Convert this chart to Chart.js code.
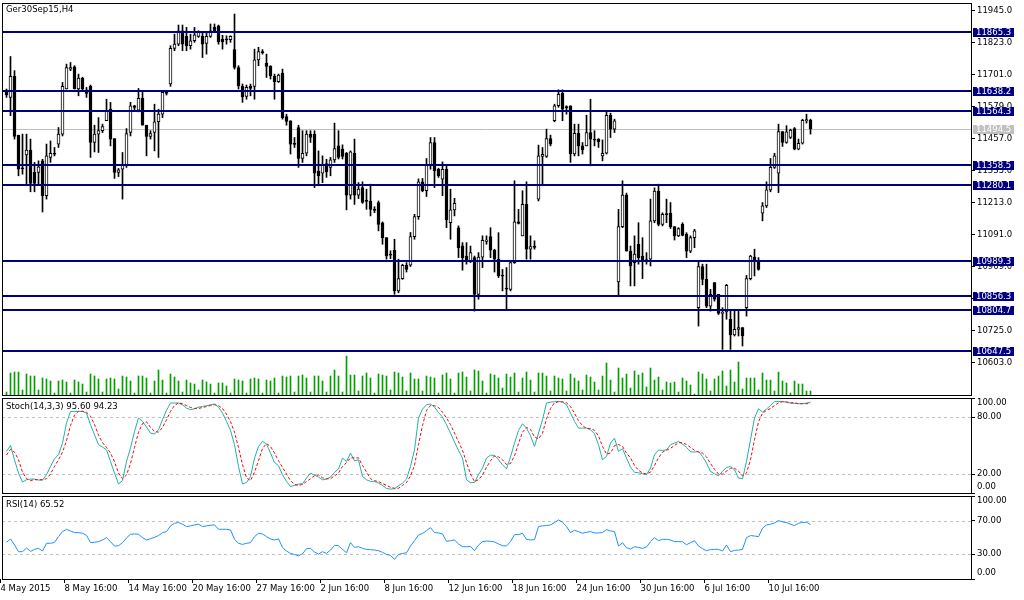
<!DOCTYPE html>
<html>
<head>
<meta charset="utf-8">
<script src="https://cdn.jsdelivr.net/npm/chart.js@4.4.0/dist/chart.umd.min.js"></script>
<style>
  html, body { margin: 0; padding: 0; background: #fff; }
  #wrap { position: relative; width: 1024px; height: 600px; }
  #wrap canvas { position: absolute; left: 0; top: 0; }
</style>
</head>
<body>
<div id="wrap">
  <canvas id="main" width="1024" height="600"></canvas>
  <canvas id="stoch" width="1024" height="600"></canvas>
  <canvas id="rsi" width="1024" height="600"></canvas>
</div>
<script>
const symbolTitle = 'Ger30Sep15,H4';

// H4 candles, one per bar
const opens = [
  11636,11615,11695,11471,11346,11396,11414,11329,11329,11373,
  11240,11386,11401,11437,11475,11647,11723,11732,11647,11689,
  11644,11657,11443,11475,11488,11526,11570,11458,11329,11341,
  11357,11481,11583,11566,11611,11509,11466,11481,11522,11551,
  11634,11666,11802,11818,11869,11848,11812,11831,11848,11848,
  11821,11848,11882,11888,11837,11838,11835,11797,11729,11657,
  11619,11657,11657,11758,11790,11746,11733,11695,11675,11708,
  11542,11526,11440,11500,11382,11402,11475,11475,11334,11326,
  11363,11348,11377,11430,11418,11402,11242,11402,11242,11271,
  11222,11220,11188,11214,11137,11080,11017,11032,10877,10924,
  10975,10975,11084,11160,11293,11259,11357,11443,11341,11303,
  11341,11137,11186,11118,11049,11010,10992,11004,10864,11006,
  11066,11084,11032,10998,10937,10888,10883,10985,11140,11087,
  11207,11036,11047,11227,11390,11390,11458,11526,11583,11631,
  11580,11583,11399,11478,11430,11430,11481,11456,11456,11392,
  11402,11547,11494,10911,11122,11242,11029,10985,11055,11010,
  10990,10998,11144,11258,11131,11172,11173,11122,11087,11131,
  11093,11029,11080,10813,10970,10921,10819,10909,10864,10791,
  10797,10769,10709,10730,10737,10813,10924,11006,10991,11173,
  11201,11262,11348,11326,11485,11443,11462,11496,11418,11440,
  11526,11528
];
const highs = [
  11647,11771,11717,11471,11475,11475,11456,11367,11373,11379,
  11437,11449,11424,11500,11672,11742,11748,11736,11704,11692,
  11653,11662,11509,11538,11513,11608,11596,11458,11344,11405,
  11496,11596,11585,11649,11634,11509,11488,11589,11570,11640,
  11640,11812,11856,11891,11891,11882,11856,11882,11869,11863,
  11863,11895,11895,11891,11852,11850,11850,11933,11736,11666,
  11662,11666,11799,11806,11797,11780,11736,11704,11704,11723,
  11551,11526,11462,11509,11488,11488,11488,11488,11411,11392,
  11379,11386,11517,11488,11434,11405,11411,11456,11290,11293,
  11265,11284,11198,11220,11140,11080,11030,11074,10998,10979,
  10985,11100,11169,11304,11306,11382,11462,11462,11345,11369,
  11355,11265,11230,11125,11061,11061,11048,11010,11023,11087,
  11087,11118,11036,11099,10959,10966,10988,11297,11188,11259,
  11293,11087,11068,11433,11424,11494,11471,11589,11644,11644,
  11583,11583,11513,11513,11443,11547,11608,11488,11458,11453,
  11564,11555,11532,11188,11297,11250,11048,11087,11137,11080,
  11023,11227,11270,11284,11175,11227,11214,11122,11118,11137,
  11099,11087,11112,10991,10979,10979,10883,10909,10864,10813,
  10902,10800,10807,10807,10737,10936,11013,11036,11004,11214,
  11293,11382,11402,11513,11485,11507,11494,11500,11456,11532,
  11551,11532
];
const lows = [
  11615,11545,11456,11316,11322,11278,11255,11255,11284,11178,
  11227,11367,11392,11424,11468,11647,11717,11647,11621,11640,
  11615,11386,11407,11405,11481,11526,11430,11306,11313,11227,
  11348,11468,11566,11560,11509,11392,11456,11411,11386,11538,
  11624,11657,11793,11812,11793,11793,11799,11825,11844,11767,
  11780,11844,11863,11818,11799,11818,11825,11723,11647,11596,
  11608,11621,11608,11736,11780,11691,11685,11608,11672,11532,
  11509,11399,11424,11348,11367,11392,11443,11271,11278,11290,
  11310,11316,11367,11380,11380,11186,11227,11207,11229,11211,
  11188,11163,11175,11106,11055,10998,11000,10864,10870,10921,
  10949,10970,11074,11150,11255,11237,11341,11271,11310,11240,
  11118,11074,11163,11004,10956,10979,10985,10800,10845,10966,
  11055,11004,10949,10928,10877,10809,10877,10982,11132,11087,
  10998,10998,11036,11220,11278,11386,11430,11522,11577,11526,
  11551,11367,11392,11392,11399,11430,11354,11430,11424,11373,
  11399,11462,11481,10858,11118,11029,10896,10896,10979,10924,
  10979,10972,11137,11125,11125,11137,11115,11071,11084,11087,
  11004,11023,11042,10743,10900,10813,10800,10838,10787,10654,
  10769,10654,10705,10705,10667,10781,10919,10934,10956,11144,
  11195,11255,11344,11252,11428,11440,11458,11415,11415,11437,
  11517,11475
];
const closes = [
  11624,11695,11466,11341,11342,11414,11287,11287,11350,11240,
  11392,11402,11398,11475,11657,11729,11729,11647,11689,11647,
  11630,11443,11475,11488,11504,11564,11456,11329,11339,11357,
  11477,11583,11577,11611,11509,11466,11477,11522,11551,11634,
  11630,11802,11818,11869,11818,11812,11831,11854,11863,11818,
  11848,11869,11869,11827,11827,11834,11848,11729,11659,11617,
  11653,11649,11758,11790,11786,11733,11697,11675,11700,11538,
  11523,11437,11436,11382,11402,11475,11462,11326,11316,11360,
  11331,11377,11420,11386,11390,11242,11407,11242,11265,11214,
  11218,11188,11184,11131,11080,11010,11013,10877,10924,10975,
  10959,11084,11160,11293,11259,11357,11443,11335,11316,11341,
  11148,11186,11211,11042,11004,10992,11023,10864,11006,11070,
  11071,11032,10998,10934,10933,10884,10985,11140,11134,11207,
  11036,11046,11043,11392,11398,11458,11437,11583,11627,11570,
  11576,11399,11478,11430,11415,11481,11456,11452,11446,11402,
  11547,11494,11526,11122,11242,11029,10972,11017,11004,10991,
  10996,11144,11258,11131,11169,11168,11122,11087,11115,11089,
  11029,11080,11106,10970,10921,10819,10864,10845,10791,10796,
  10898,10709,10730,10737,10705,10924,11010,10991,10959,11201,
  11262,11348,11392,11485,11443,11484,11490,11418,11440,11528,
  11530,11494.5
];
const volumes = [
  300,2200,2300,2300,500,2100,1900,1900,500,1700,
  1600,1400,200,1400,1500,1300,200,1500,1300,1100,
  300,2100,1900,1600,300,1600,1700,1600,600,1900,
  1800,1400,200,1900,1900,1700,200,1400,2500,1500,
  200,2100,1800,1400,300,1500,1200,1100,500,1500,
  1300,1100,200,1200,1200,900,200,1600,1500,1400,
  200,1600,1700,1600,200,1500,1400,1700,200,1900,
  1800,1900,300,1900,2000,1700,300,1900,1900,1400,
  300,1900,2500,1900,300,3900,2000,2000,400,1900,
  2200,1700,200,2100,2000,1900,500,2300,2200,1800,
  400,2200,1600,1600,400,1900,1800,1700,200,2000,
  2200,1600,200,2200,2300,1800,400,2500,2400,1400,
  200,2100,2000,1700,700,2100,1800,2200,300,1700,
  2300,1500,300,2200,2200,1900,400,1900,1700,1600,
  400,2100,1700,1400,500,2000,1800,1300,500,1900,
  3200,1500,300,2700,1700,2100,700,2400,2000,2200,
  800,2700,1500,1800,500,1300,1200,1300,300,1700,
  1400,1000,100,2300,2100,1600,400,1600,1900,2400,
  900,2500,1300,3300,600,1700,1700,1700,500,2200,
  1500,1500,400,2300,1400,1200,200,1400,1100,1100,
  400,400
];

// Stochastic(14,3,3): main line and signal line
const stochK = [
  43.8,50.1,35,21,11.5,14,14.6,14.6,13.6,13.6,
  19.2,28,36,40.3,52.5,73.6,85.9,85.9,85.9,85.9,
  84.1,71.8,61.3,50.8,48.3,45.5,33.2,21,9.4,13.2,
  33.2,47.3,64.8,78.9,75.4,69.4,63.1,62,66.6,77.1,
  87,94.7,94.7,94.7,92.9,89.4,87.6,88.7,90.4,91.1,
  91.8,92.9,93.6,90.4,84.1,75.4,65.9,50.8,28,9.4,
  11.1,17.4,36.7,49,54.3,51.5,42,32.2,28.7,19.2,
  12.2,6.9,8,9.4,9.7,15.7,21,18.8,16.7,13.9,
  14.6,16.7,21.7,25.2,36.7,33.2,42,33.9,35,17.4,
  13.9,12.2,12.2,10.4,8,4.8,4.1,4.5,7.6,10.4,
  14.6,28,45.5,78.9,88.3,92.9,93.6,90.4,84.8,79.9,
  71.8,63.1,53.6,44.8,36.7,13.9,10.8,11.1,19.2,26.2,
  36.7,39.9,39.5,35,29.7,25.5,38,52.5,65.9,72.9,
  68.3,60.3,49,63.1,77.1,94.7,95.7,96.1,96.4,95.7,
  92.9,84.1,75.4,68.3,68.3,68.3,66.6,62.4,50.8,35,
  38.5,52.5,57.8,43.8,46.6,36.7,27.3,21.7,21.3,20.2,
  19.2,26.2,40.3,45.2,44.8,45.5,50.8,52.5,54.3,51.5,
  48,43.4,43.1,43.8,38.5,31.5,22.7,20.2,18.1,22.7,
  26.9,28,24.5,15.7,15,33.2,56,78.9,88.7,85.2,
  88.3,92.2,96.1,96.4,96.4,95.4,94.7,94.3,94,94,
  94.7,95.60
];
const stochD = [
  40,46,43,35,22,15,13,14,14,14,
  15,20,28,35,43,55,71,82,86,86,
  85,81,72,61,53,48,42,33,21,15,
  19,31,48,64,73,75,69,65,64,69,
  77,86,92,95,94,92,90,89,89,90,
  91,92,93,92,89,83,75,64,48,30,
  16,13,22,34,47,52,49,42,34,27,
  20,13,9,8,9,12,15,18,19,16,
  15,15,18,21,28,32,37,37,37,29,
  22,15,13,12,10,8,6,5,5,8,
  11,18,29,51,71,87,92,92,90,85,
  79,72,63,54,45,32,20,12,14,19,
  27,34,39,38,35,30,31,39,52,64,
  69,67,59,57,63,78,89,95,96,96,
  95,91,84,76,71,68,68,66,60,49,
  41,42,50,51,49,42,37,29,24,21,
  20,22,29,37,43,45,47,50,53,53,
  51,48,45,43,42,38,31,25,20,20,
  23,26,26,23,18,21,35,56,75,84,
  87,89,92,95,96,96,95,95,94,94,
  94,94.23
];
const rsi = [
  44.2,48.2,41,32.9,32.9,37.3,33.3,35.7,36.9,33.7,
  43,43,44.2,51,57.1,59.9,57.9,55.9,55.9,55.1,
  52.7,43.8,44.2,45,47,49.8,45,39.7,40.1,43.8,
  49.4,53.9,54.3,53.9,49.8,47,48.6,50.2,52.3,55.9,
  57.1,64,67.2,68,66,63.2,64,65.2,66,63.2,
  64,64.8,65.2,59.9,59.9,59.9,59.1,47.8,43,41.7,
  43,43.8,51,55.1,54.3,51,48.2,47,48.2,38.1,
  33.7,30.8,29.6,28,30.4,36.5,36.9,32.5,30,32.9,
  30.8,34.9,40.5,40.1,35.7,31.6,43.8,38.1,38.9,36.9,
  35.7,35.3,34.9,34.1,32.1,29.6,28.4,23.6,29.6,30.8,
  31.6,39.7,46.2,53.1,54.7,58.3,61.9,55.9,55.5,54.3,
  45.4,46.2,47,42.2,38.9,38.9,39.3,34.1,40.9,45,
  45.8,45.4,44.6,42.2,40.1,39.7,45,53.5,53.5,55.1,
  47.8,47,47.4,63.2,64,64.4,65.2,68,71.2,68.4,
  63.2,55.9,58.7,57.1,55.1,56.3,57.1,55.5,55.5,55.9,
  59.5,57.9,57.1,39.7,43.8,37.7,36.1,38.9,38.1,36.9,
  38.5,45,49.8,46.2,47.8,47.8,47,45,45,45,
  41.3,43.8,46.2,39.7,36.5,34.1,35.3,35.7,35.7,33.7,
  40.9,32.9,34.5,34.9,35.7,49.8,52.3,51.8,51,61.1,
  65.2,66,67.6,70.4,68.8,68,66,64.4,67.2,68,
  68.4,65.52
];

// horizontal support / resistance levels drawn on the chart
const levelPrices = [11865.3, 11638.2, 11564.3, 11358.5, 11280.1, 10989.3, 10856.3, 10804.7, 10647.5];

const priceTicks = [11945, 11823, 11701, 11579, 11457, 11335, 11213, 11091, 10969, 10847, 10725, 10603];
const stochTicks = [0, 20, 80, 100];
const stochLevels = [20, 80];
const rsiTicks = [0, 30, 70, 100];
const rsiLevels = [30, 70];

const dateLabels = ['4 May 2015', '8 May 16:00', '14 May 16:00', '20 May 16:00', '27 May 16:00',
  '2 Jun 16:00', '8 Jun 16:00', '12 Jun 16:00', '18 Jun 16:00', '24 Jun 16:00',
  '30 Jun 16:00', '6 Jul 16:00', '10 Jul 16:00'];
const labelStep = 16;

const FONT = '"DejaVu Sans", sans-serif';
const FS = 8.5;
const ctxFont = FS + 'px ' + FONT;
const NAVY = '#000080';
const xMin = -1.125, xMax = 241.125;

function fitRight(s) { s.width = 53; s.paddingTop = 0; s.paddingBottom = 0; }

function xAxis(show) {
  return {
    type: 'linear', min: xMin, max: xMax, display: show, offset: false,
    afterBuildTicks: s => { s.ticks = dateLabels.map((_, k) => ({ value: k * labelStep - 1.5 })); },
    afterFit: s => {
      if (show) s.height = 21;
      s.paddingLeft = 0; s.paddingRight = 0;
    },
    ticks: {
      autoSkip: false, maxRotation: 0, minRotation: 0, align: 'start', padding: 1,
      color: '#000', font: { family: FONT, size: FS },
      callback: (v, i) => dateLabels[i]
    },
    grid: { drawOnChartArea: false, color: '#000', tickLength: 4, offset: false },
    border: { display: false }
  };
}

function rightAxis(min, max, ticks, showLabels, digits) {
  return {
    position: 'right', min: min, max: max,
    afterFit: fitRight,
    afterBuildTicks: s => { s.ticks = ticks.map(v => ({ value: v })); },
    ticks: {
      display: showLabels, padding: 2, color: '#000',
      font: { family: FONT, size: FS },
      callback: v => v.toFixed(digits)
    },
    grid: { drawOnChartArea: false, color: '#000', tickLength: 4 },
    border: { display: false }
  };
}

function drawFrame(chart, title, dy) {
  const { ctx, chartArea: a } = chart;
  ctx.save();
  ctx.strokeStyle = '#000';
  ctx.lineWidth = 1;
  ctx.strokeRect(a.left + 0.5, a.top + 0.5, a.right - a.left, a.bottom - a.top);
  ctx.fillStyle = '#000';
  ctx.font = ctxFont;
  ctx.textAlign = 'left';
  ctx.textBaseline = 'middle';
  ctx.fillText(title, a.left + 4, a.top + dy);
  ctx.restore();
}

function priceBox(ctx, a, py, text, bg) {
  ctx.fillStyle = bg;
  ctx.fillRect(a.right + 2, py - 4, 41, 9);
  ctx.fillStyle = '#fff';
  ctx.textAlign = 'left';
  ctx.textBaseline = 'middle';
  ctx.fillText(text, a.right + 5, py + 0.5);
}

const mainDeco = {
  id: 'mainDeco',
  beforeDatasetsDraw(chart) {
    const { ctx, chartArea: a, scales: { y } } = chart;
    const py = Math.round(y.getPixelForValue(closes[closes.length - 1])) + 0.5;
    ctx.save();
    ctx.strokeStyle = '#c0c0c0';
    ctx.lineWidth = 1;
    ctx.beginPath(); ctx.moveTo(a.left, py); ctx.lineTo(a.right, py); ctx.stroke();
    ctx.restore();
  },
  afterDatasetsDraw(chart) {
    const { ctx, chartArea: a, scales: { y } } = chart;
    ctx.save();
    ctx.strokeStyle = NAVY;
    ctx.lineWidth = 2;
    levelPrices.forEach(p => {
      const py = Math.round(y.getPixelForValue(p));
      ctx.beginPath(); ctx.moveTo(a.left, py); ctx.lineTo(a.right, py); ctx.stroke();
    });
    ctx.restore();
  },
  afterDraw(chart) {
    const { ctx, chartArea: a, scales: { y } } = chart;
    drawFrame(chart, symbolTitle, 7);
    ctx.save();
    ctx.font = ctxFont;
    levelPrices.forEach(p => priceBox(ctx, a, Math.round(y.getPixelForValue(p)), p.toFixed(1), NAVY));
    const last = closes[closes.length - 1];
    priceBox(ctx, a, Math.round(y.getPixelForValue(last)), last.toFixed(1), '#c0c0c0');
    ctx.restore();
  }
};

const panelDeco = {
  id: 'panelDeco',
  beforeDatasetsDraw(chart, args, opts) {
    const { ctx, chartArea: a, scales: { y } } = chart;
    ctx.save();
    ctx.strokeStyle = '#c0c0c0';
    ctx.lineWidth = 1;
    ctx.setLineDash([3, 3]);
    opts.levels.forEach(v => {
      const py = Math.round(y.getPixelForValue(v)) + 0.5;
      ctx.beginPath(); ctx.moveTo(a.left, py); ctx.lineTo(a.right, py); ctx.stroke();
    });
    ctx.restore();
  },
  afterDraw(chart, args, opts) {
    const { ctx, chartArea: a, scales: { y } } = chart;
    drawFrame(chart, opts.title, 9);
    ctx.save();
    ctx.font = ctxFont;
    ctx.fillStyle = '#000';
    ctx.textAlign = 'left';
    ctx.textBaseline = 'middle';
    opts.ticks.forEach(v => {
      let py = y.getPixelForValue(v);
      py = Math.min(Math.max(py, a.top + 5), a.bottom - 6);
      ctx.fillText(v.toFixed(2), a.right + 6, py);
    });
    ctx.restore();
  }
};

const common = {
  responsive: false,
  animation: false,
  events: [],
  plugins: { legend: { display: false }, tooltip: { enabled: false } }
};

new Chart(document.getElementById('main'), {
  type: 'bar',
  data: {
    datasets: [
      {
        data: opens.map((o, i) => ({ x: i, y: [o, closes[i]] })),
        backgroundColor: opens.map((o, i) => closes[i] >= o ? '#ffffff' : '#000000'),
        borderColor: '#000', borderWidth: 1, borderSkipped: false,
        barThickness: 3, minBarLength: 1, grouped: false, order: 1
      },
      {
        data: highs.map((h, i) => ({ x: i, y: [lows[i], h] })),
        backgroundColor: '#000', barThickness: 1, grouped: false, order: 2
      },
      {
        data: volumes.map((v, i) => ({ x: i, y: v })),
        yAxisID: 'yv', backgroundColor: '#00a000', barThickness: 1, grouped: false, order: 3
      }
    ]
  },
  options: {
    ...common,
    layout: { padding: { left: 2, top: 3, right: 0, bottom: 205 } },
    scales: {
      x: xAxis(false),
      y: rightAxis(10480, 11975, priceTicks, true, 1),
      yv: { display: false, position: 'left', min: 0, max: 39200 }
    }
  },
  plugins: [mainDeco]
});

new Chart(document.getElementById('stoch'), {
  type: 'line',
  data: {
    datasets: [
      {
        data: stochK.map((v, i) => ({ x: i, y: v })),
        borderColor: '#20b2aa', borderWidth: 1, pointRadius: 0, tension: 0, order: 1
      },
      {
        data: stochD.map((v, i) => ({ x: i, y: v })),
        borderColor: '#ff0000', borderWidth: 1, borderDash: [3, 2], pointRadius: 0, tension: 0, order: 0
      }
    ]
  },
  options: {
    ...common,
    layout: { padding: { left: 2, top: 398, right: 0, bottom: 107 } },
    scales: {
      x: xAxis(false),
      y: rightAxis(0, 100, stochTicks, false, 2)
    },
    plugins: {
      ...common.plugins,
      panelDeco: {
        levels: stochLevels, ticks: stochTicks,
        title: 'Stoch(14,3,3) ' + stochK[stochK.length - 1].toFixed(2) + ' ' + stochD[stochD.length - 1].toFixed(2)
      }
    }
  },
  plugins: [panelDeco]
});

new Chart(document.getElementById('rsi'), {
  type: 'line',
  data: {
    datasets: [
      {
        data: rsi.map((v, i) => ({ x: i, y: v })),
        borderColor: '#1e90ff', borderWidth: 1, pointRadius: 0, tension: 0
      }
    ]
  },
  options: {
    ...common,
    layout: { padding: { left: 2, top: 496, right: 0, bottom: 0 } },
    scales: {
      x: xAxis(true),
      y: rightAxis(0, 100, rsiTicks, false, 2)
    },
    plugins: {
      ...common.plugins,
      panelDeco: {
        levels: rsiLevels, ticks: rsiTicks,
        title: 'RSI(14) ' + rsi[rsi.length - 1].toFixed(2)
      }
    }
  },
  plugins: [panelDeco]
});
</script>
</body>
</html>
